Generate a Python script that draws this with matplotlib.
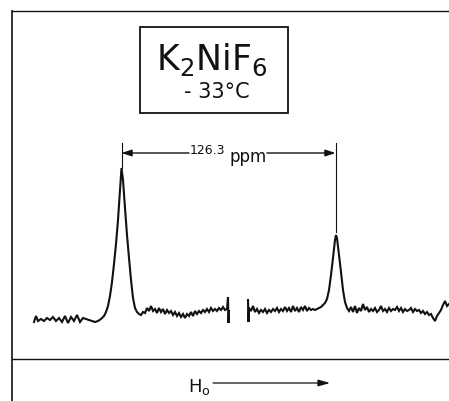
import matplotlib.pyplot as plt

plt.rcParams["mathtext.default"] = "regular"

# Spectrum trace (pixel coordinates, y grows downward)
# left sweep (ends at the pen break)
trace1_x = [34, 36, 38, 41, 44, 47, 50, 53, 56, 59, 62, 65, 68, 71, 74, 77, 80, 83, 86, 89,
            92, 95, 98, 101, 104, 106, 108, 110, 112, 114, 116, 118, 120, 121.5, 123, 125,
            127, 129, 131, 133, 135, 137, 139, 141, 143, 145, 147, 149, 151, 153, 155, 157,
            159, 161, 163, 165, 167, 169, 171, 173, 175, 177, 179, 181, 183, 185, 187, 189,
            191, 193, 195, 197, 199, 201, 203, 205, 207, 209, 211, 213, 215, 217, 219, 221,
            223, 225, 227, 228, 228.5, 229]
trace1_y = [322, 316, 321, 319, 321, 318, 320, 317, 321, 318, 322, 316, 323, 317, 321, 315,
            322, 318, 319, 320, 321, 322, 321, 319, 316, 312, 306, 296, 282, 264, 244, 220,
            190, 168, 180, 208, 235, 258, 280, 298, 308, 312, 314, 315, 312, 313, 308, 311,
            306, 311, 309, 313, 308, 312, 309, 314, 310, 313, 311, 315, 312, 316, 313, 317,
            314, 318, 314, 316, 312, 316, 311, 314, 311, 313, 310, 312, 309, 312, 308, 311,
            309, 311, 308, 310, 307, 310, 309, 297, 323, 311]

# right sweep (after the break)
trace2_x = [248, 248.5, 249, 251, 253, 255, 257, 259, 261, 263, 265, 267, 269, 271, 273, 275,
            277, 279, 281, 283, 285, 287, 289, 291, 293, 295, 297, 299, 301, 303, 305, 307,
            309, 311, 313, 315, 317, 319, 321, 323, 325, 327, 329, 331, 333, 335, 336, 337,
            339, 341, 343, 345, 347, 349, 351, 353, 355, 357, 359, 361, 363, 365, 367, 369,
            371, 373, 375, 377, 379, 381, 383, 385, 387, 389, 391, 393, 395, 397, 399, 401,
            403, 405, 407, 409, 411, 413, 415, 417, 419, 421, 423, 425, 427, 429, 431, 433,
            435, 437, 439, 441, 443, 445, 447, 449]
trace2_y = [300, 322, 308, 311, 306, 312, 309, 313, 310, 312, 309, 313, 310, 312, 309, 311,
            308, 312, 309, 311, 307, 311, 308, 312, 306, 311, 308, 312, 307, 310, 306, 311,
            308, 310, 309, 310, 309, 308, 307, 305, 303, 299, 290, 275, 258, 240, 235, 238,
            255, 272, 290, 302, 308, 311, 307, 312, 306, 313, 308, 311, 304, 310, 307, 312,
            309, 311, 308, 312, 310, 306, 311, 309, 312, 308, 311, 309, 310, 307, 311, 308,
            312, 309, 311, 310, 308, 312, 309, 311, 310, 313, 311, 314, 312, 315, 314, 318,
            321, 316, 313, 310, 305, 301, 306, 304]

peak_x = [121.5, 335.5]
separation_label = "126.3"

INK = "#111111"

fig = plt.figure(figsize=(4.49, 4.01), dpi=100)
ax = fig.add_axes([0, 0, 1, 1])
ax.set_xlim(0, 449)
ax.set_ylim(401, 0)
ax.axis("off")

# frame lines of the chart paper
ax.plot([12, 12], [11, 401], color=INK, lw=1.2)
ax.plot([12, 449], [11, 11], color=INK, lw=1.0)
ax.plot([12, 449], [359, 359], color=INK, lw=1.0)

# spectrum
ax.plot(trace1_x, trace1_y, color=INK, lw=1.5, solid_joinstyle="miter")
ax.plot(trace2_x, trace2_y, color=INK, lw=1.5, solid_joinstyle="miter")

# title box
ax.add_patch(plt.Rectangle((140, 27), 148, 86, fill=False, edgecolor=INK, lw=1.3))
ax.text(212, 60, "K$_2$NiF$_6$", fontsize=25, ha="center", va="center", color=INK)
ax.text(217, 92, "- 33°C", fontsize=15, ha="center", va="center", color=INK)

# peak separation dimension
ax.plot([peak_x[0], peak_x[0]], [143, 168], color=INK, lw=0.8)
ax.plot([peak_x[1], peak_x[1]], [143, 232], color=INK, lw=0.8)
arrow = dict(arrowstyle="-|>,head_length=0.6,head_width=0.2", color=INK, lw=1.0,
             shrinkA=0, shrinkB=0)
ax.annotate("", xy=(peak_x[0], 153), xytext=(189, 153), arrowprops=arrow)
ax.annotate("", xy=(peak_x[1], 153), xytext=(267, 153), arrowprops=arrow)
ax.text(207, 151, separation_label, fontsize=9, ha="center", va="center", color=INK)
ax.text(248, 157, "ppm", fontsize=12, ha="center", va="center", color=INK)

# field direction
ax.text(199, 387, "H$_o$", fontsize=13, ha="center", va="center", color=INK)
ax.annotate("", xy=(330, 383), xytext=(213, 383),
            arrowprops=dict(arrowstyle="-|>,head_length=0.7,head_width=0.2", color=INK,
                            lw=0.9, shrinkA=0, shrinkB=0))

fig.savefig("out.png", dpi=100)
